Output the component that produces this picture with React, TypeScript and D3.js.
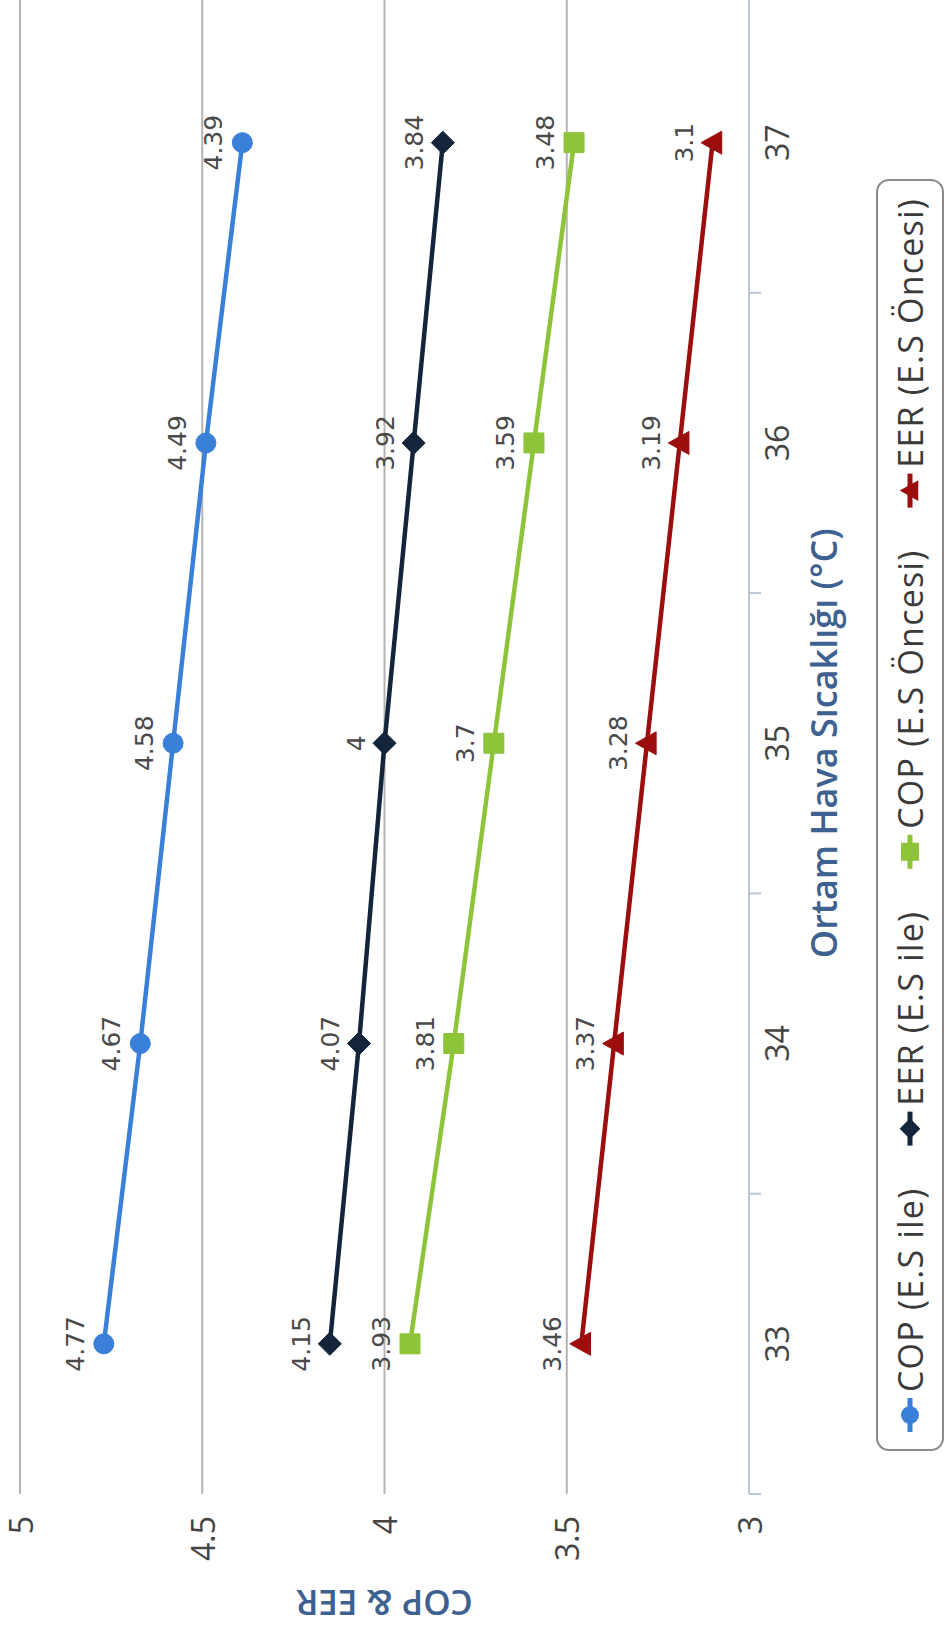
import React from 'react';
import * as d3 from 'd3';

const categories = [33, 34, 35, 36, 37];
const copWith = [4.77, 4.67, 4.58, 4.49, 4.39];
const eerWith = [4.15, 4.07, 4.0, 3.92, 3.84];
const copBefore = [3.93, 3.81, 3.7, 3.59, 3.48];
const eerBefore = [3.46, 3.37, 3.28, 3.19, 3.1];
const valueTicks = [3, 3.5, 4, 4.5, 5];
const seriesNames = ['COP (E.S ile)', 'EER (E.S ile)', 'COP (E.S Öncesi)', 'EER (E.S Öncesi)'];
const xTitle = 'Ortam Hava Sıcaklığı (°C)';
const yTitle = 'COP & EER';

const W = 948;
const H = 1634;
// the chart is drawn in an unrotated frame (H wide, W tall) and turned -90°
const FW = H;

const series = [
  { name: seriesNames[0], values: copWith, color: '#3a7fd8', shape: 'circle' },
  { name: seriesNames[1], values: eerWith, color: '#13243b', shape: 'diamond' },
  { name: seriesNames[2], values: copBefore, color: '#8dc43a', shape: 'square' },
  { name: seriesNames[3], values: eerBefore, color: '#9c0d0d', shape: 'triangle' },
];

function markerPath(shape: string, s: number): string {
  if (shape === 'circle') return d3.symbol().type(d3.symbolCircle).size(Math.PI * s * s)() as string;
  if (shape === 'square') return `M${-s},${-s}H${s}V${s}H${-s}Z`;
  if (shape === 'diamond') { const d = s * 1.15; return `M0,${-d}L${d},0L0,${d}L${-d},0Z`; }
  const t = s * 1.15;
  return `M0,${-t}L${t},${t * 0.8}L${-t},${t * 0.8}Z`;
}

const legendFontSize = 34;
const legendSpacing = 1.2;
const legendFont = `${legendFontSize}px "Open Sans"`;
function measure(text: string, font: string, spacing: number): number {
  const c = document.createElement('canvas').getContext('2d');
  if (!c) return text.length * 17;
  c.font = font;
  return c.measureText(text).width + spacing * text.length;
}

export default function App() {
  const x = d3.scaleBand<number>().domain(categories).range([140, 1641.5]).padding(0);
  const bw = x.bandwidth();
  const cx = (c: number) => (x(c) as number) + bw / 2;
  const y = d3.scaleLinear().domain([3, 5]).range([749, 20]);
  const line = d3.line<number>().x((_, i) => cx(categories[i])).y((v) => y(v));
  const fmt = (v: number) => String(+v.toFixed(2));

  // legend layout
  const lgX0 = 184, lgX1 = 1454, lgY0 = 877, lgY1 = 943;
  const widths = series.map((s) => measure(s.name, legendFont, legendSpacing));
  const markLen = 34, markGap = 6, pad = 18;
  const used = widths.reduce((a, b) => a + b, 0) + 4 * (markLen + markGap);
  const gap = (lgX1 - lgX0 - 2 * pad - used) / 3;
  let cur = lgX0 + pad;
  const legendItems = series.map((s, i) => {
    const item = { s, mx: cur + markLen / 2, tx: cur + markLen + markGap };
    cur += markLen + markGap + widths[i] + gap;
    return item;
  });
  const lgCy = (lgY0 + lgY1) / 2;

  return (
    <svg width={W} height={H} style={{ position: 'absolute', left: 0, top: 0, background: '#fff' }}>
      <rect width={W} height={H} fill="#fff" />
      <g transform={`translate(0,${H}) rotate(-90)`}>
        {/* gridlines */}
        {valueTicks.filter((t) => t !== 3).map((t) => (
          <line key={t} x1={140} x2={FW + 10} y1={y(t)} y2={y(t)} stroke="#b3b3b3" strokeWidth={2} />
        ))}
        {/* category axis */}
        <line x1={140} x2={FW + 10} y1={y(3)} y2={y(3)} stroke="#bcc6d4" strokeWidth={2} />
        {categories.map((c) => (
          <line key={'t' + c} x1={x(c) as number} x2={x(c) as number} y1={y(3)} y2={y(3) + 12} stroke="#bcc6d4" strokeWidth={2} />
        ))}
        <line x1={(x(37) as number) + bw} x2={(x(37) as number) + bw} y1={y(3)} y2={y(3) + 12} stroke="#bcc6d4" strokeWidth={2} />
        {/* value tick labels */}
        {valueTicks.map((t) => (
          <text key={'v' + t} x={118} y={y(t)} textAnchor="end" dominantBaseline="central"
            fontFamily='"Open Sans"' fontSize={32} fill="#444">{String(t)}</text>
        ))}
        {/* category tick labels */}
        {categories.map((c) => (
          <text key={'c' + c} x={cx(c)} y={776} textAnchor="middle" dominantBaseline="central"
            fontFamily='"Open Sans"' fontSize={32} fill="#444">{String(c)}</text>
        ))}
        {/* axis titles */}
        <text x={(140 + 1641.5) / 2} y={823} textAnchor="middle" dominantBaseline="central"
          fontFamily='"Open Sans"' fontWeight={600} fontSize={36} fill="#3d6190">{xTitle}</text>
        <text transform={`translate(31,${(y(3) + y(5)) / 2}) rotate(-90)`} textAnchor="middle" dominantBaseline="central"
          fontFamily='"Open Sans"' fontWeight={600} fontSize={35} fill="#3d6190">{yTitle}</text>
        {/* series */}
        {series.map((s) => (
          <g key={s.name}>
            <path d={line(s.values) as string} fill="none" stroke={s.color} strokeWidth={4.5} />
            {s.values.map((v, i) => (
              <path key={i} d={markerPath(s.shape, 10)} transform={`translate(${cx(categories[i])},${y(v)})`}
                fill={s.color} stroke={s.color} strokeWidth={1} />
            ))}
            {s.values.map((v, i) => (
              <text key={'l' + i} x={cx(categories[i])} y={y(v) - 20} textAnchor="middle"
                fontFamily='"DejaVu Sans"' fontSize={25} fill="#4a4a4a">{fmt(v)}</text>
            ))}
          </g>
        ))}
        {/* legend */}
        <rect x={lgX0} y={lgY0} width={lgX1 - lgX0} height={lgY1 - lgY0} rx={12} fill="#fff" stroke="#8a8a8a" strokeWidth={2} />
        {legendItems.map(({ s, mx, tx }) => (
          <g key={'lg' + s.name}>
            <line x1={mx - markLen / 2} x2={mx + markLen / 2} y1={lgCy} y2={lgCy} stroke={s.color} strokeWidth={5} />
            <path d={markerPath(s.shape, 9)} transform={`translate(${mx},${lgCy})`} fill={s.color} />
            <text x={tx} y={lgCy} dominantBaseline="central" fontFamily='"Open Sans"' fontSize={legendFontSize}
              letterSpacing={legendSpacing} fill="#3a3a3a">{s.name}</text>
          </g>
        ))}
      </g>
    </svg>
  );
}
